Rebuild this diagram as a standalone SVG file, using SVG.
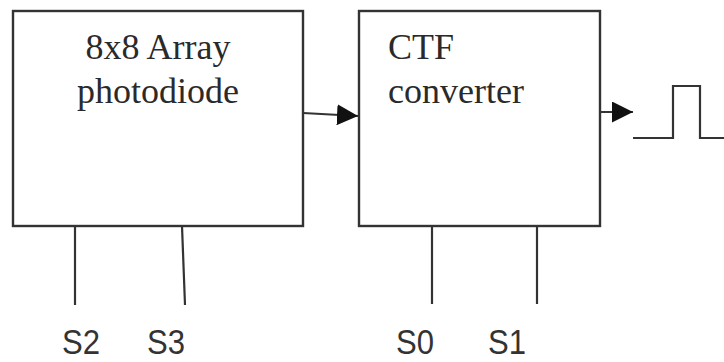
<svg xmlns="http://www.w3.org/2000/svg" width="724" height="362" viewBox="0 0 724 362">
<defs>
<style>
.box{fill:#fff;stroke:#333;stroke-width:2.4}
.ln{fill:none;stroke:#333;stroke-width:2.2}
.serif{font-family:"Liberation Serif","Times New Roman",serif;font-size:36px;fill:#2a2a2a}
.sans{font-family:"Liberation Sans",Arial,sans-serif;font-size:35px;fill:#333}
</style>
<marker id="ah" viewBox="0 0 20 20" refX="20" refY="10" markerWidth="21" markerHeight="21" markerUnits="userSpaceOnUse" orient="auto">
<path d="M0,0 L20,10 L0,20 Z" fill="#111"/>
</marker>
</defs>
<rect width="724" height="362" fill="#fff"/>
<g id="photodiode">
<rect class="box" x="13" y="11" width="290" height="215"/>
<text class="serif" x="158" y="59" text-anchor="middle">8x8 Array</text>
<text class="serif" x="158" y="103" text-anchor="middle">photodiode</text>
</g>
<g id="ctf">
<rect class="box" x="359" y="11" width="241" height="215"/>
<text class="serif" x="388" y="59">CTF</text>
<text class="serif" x="388" y="103">converter</text>
</g>
<g id="pulse">
<polyline class="ln" points="633,138 673,138 673,86 700,86 700,138 724,138"/>
</g>
<g id="connectors">
<line class="ln" x1="303" y1="113" x2="358" y2="116" marker-end="url(#ah)"/>
<line class="ln" x1="600" y1="112" x2="633" y2="112" marker-end="url(#ah)"/>
<line class="ln" x1="75" y1="226" x2="75" y2="305"/>
<line class="ln" x1="182" y1="226" x2="185" y2="305"/>
<line class="ln" x1="432" y1="226" x2="432" y2="304"/>
<line class="ln" x1="537" y1="226" x2="537" y2="304"/>
</g>
<g id="labels">
<text class="sans" x="62" y="354" textLength="38" lengthAdjust="spacingAndGlyphs">S2</text>
<text class="sans" x="147" y="354" textLength="38" lengthAdjust="spacingAndGlyphs">S3</text>
<text class="sans" x="396" y="354" textLength="38" lengthAdjust="spacingAndGlyphs">S0</text>
<text class="sans" x="488" y="354" textLength="38" lengthAdjust="spacingAndGlyphs">S1</text>
</g>
</svg>
